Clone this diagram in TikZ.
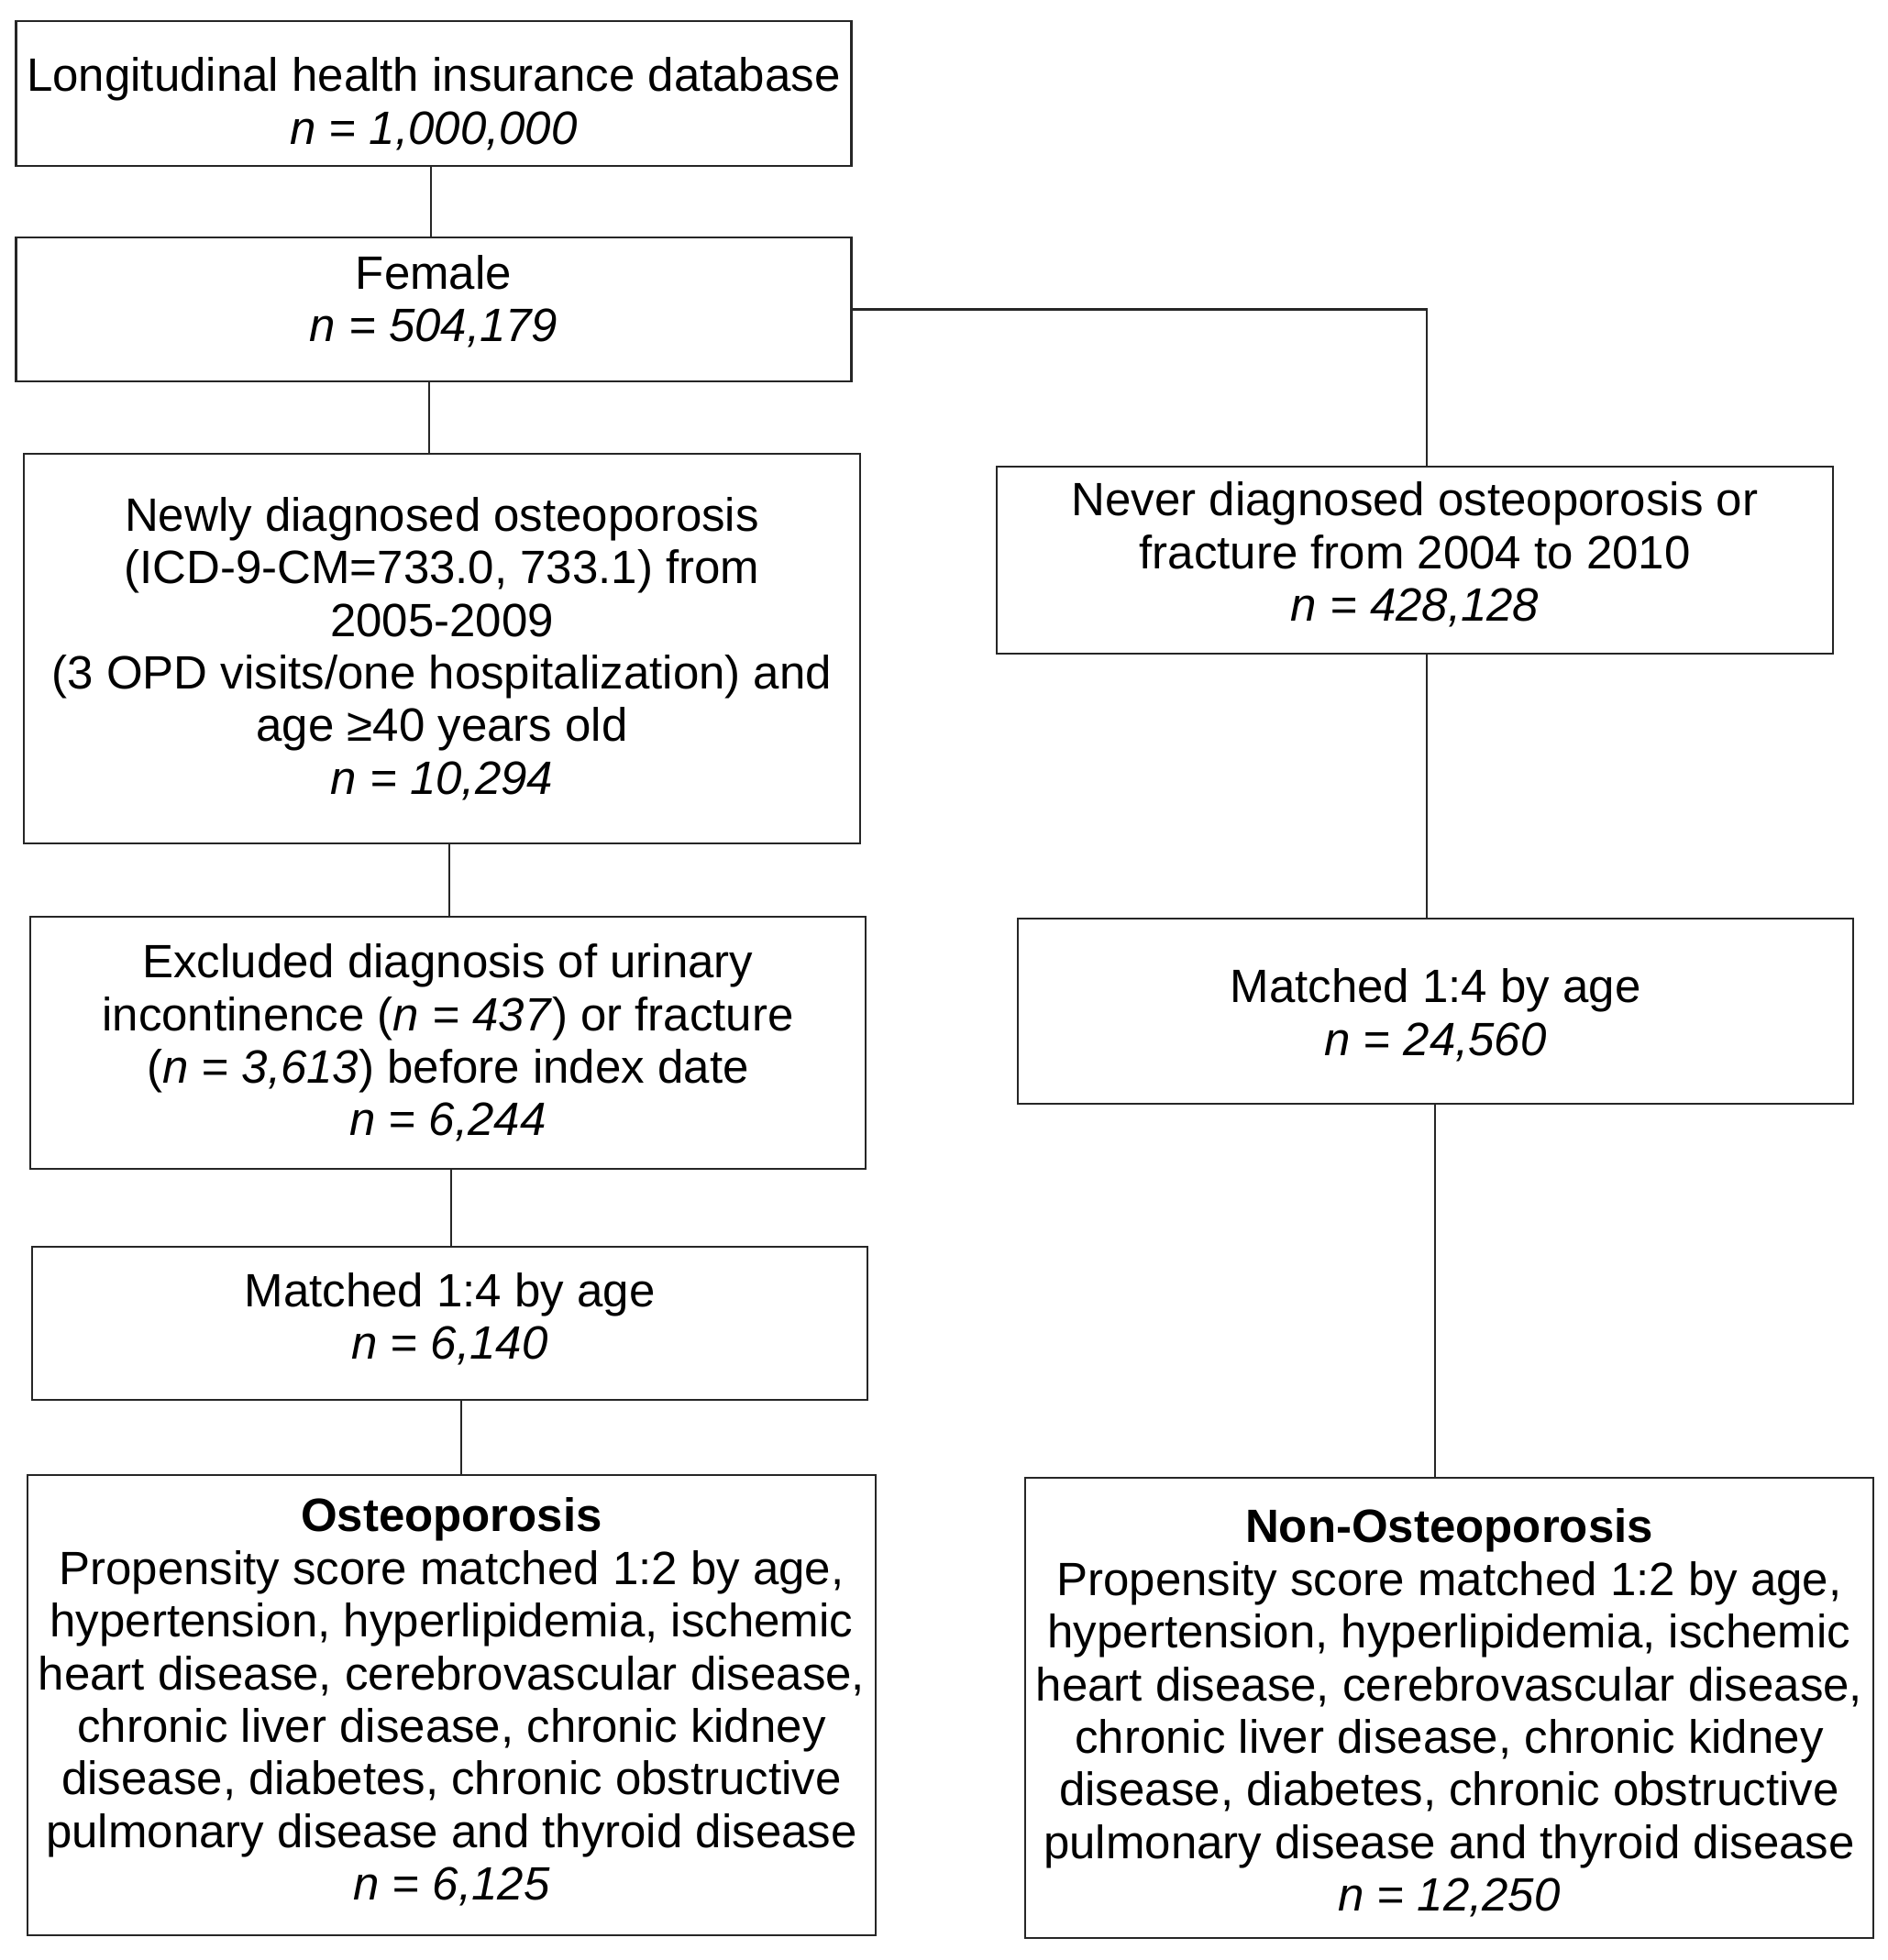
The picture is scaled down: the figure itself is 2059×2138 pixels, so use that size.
\documentclass[tikz,border=0pt]{standalone}
\usepackage{fontspec}
\setmainfont{Liberation Sans}
\newcommand\pushdown[1]{\rule{0pt}{#1}}
\newcommand\pushup[1]{\rule[-#1]{0pt}{0pt}}
\begin{document}
\begin{tikzpicture}[x=0.5pt,y=-0.5pt,
  fbox/.style={draw=black!85, line width=1.2pt, align=center, inner sep=0pt,
    font=\fontsize{25.5}{28.7}\selectfont},
  conn/.style={draw=black!85, line width=1.2pt}]
\useasboundingbox[fill=white] (0,0) rectangle (2059,2138);
\node[fbox, minimum width=455.5pt, minimum height=79pt] (b1) at (473,102)
  {\pushdown{29.6pt}Longitudinal health insurance database\\\textit{n = 1,000,000}};
\node[fbox, minimum width=455.5pt, minimum height=78.5pt] (b2) at (473,337.5)
  {Female\\\textit{n = 504,179}\pushup{11.7pt}};
\node[fbox, minimum width=456pt, minimum height=212.5pt] (b3) at (482,707.5)
  {Newly diagnosed osteoporosis\\(ICD-9-CM=733.0, 733.1) from\\2005-2009\\(3 OPD visits/one hospitalization) and\\age ≥40 years old\\\textit{n = 10,294}};
\node[fbox, minimum width=455.5pt, minimum height=137.5pt] (b4) at (488.5,1137.5)
  {Excluded diagnosis of urinary\\incontinence (\textit{n = 437}) or fracture\\(\textit{n = 3,613}) before index date\\\textit{n = 6,244}};
\node[fbox, minimum width=455.5pt, minimum height=83.5pt] (b5) at (490.5,1443.5)
  {Matched 1:4 by age\\\textit{n = 6,140}\pushup{7.7pt}};
\node[fbox, minimum width=462.5pt, minimum height=251pt] (b6) at (492.5,1860)
  {\textbf{Osteoporosis}\\Propensity score matched 1:2 by age,\\hypertension, hyperlipidemia, ischemic\\heart disease, cerebrovascular disease,\\chronic liver disease, chronic kidney\\disease, diabetes, chronic obstructive\\pulmonary disease and thyroid disease\\\textit{n = 6,125}\pushup{6.7pt}};
\node[fbox, minimum width=456pt, minimum height=102pt] (b7) at (1543,611)
  {Never diagnosed osteoporosis or\\fracture from 2004 to 2010\\\textit{n = 428,128}\pushup{9.2pt}};
\node[fbox, minimum width=455.5pt, minimum height=101pt] (b8) at (1565.5,1103)
  {\pushdown{22.6pt}Matched 1:4 by age\\\textit{n = 24,560}};
\node[fbox, minimum width=462.5pt, minimum height=251pt] (b9) at (1580.5,1863)
  {\pushdown{24pt}\textbf{Non-Osteoporosis}\\Propensity score matched 1:2 by age,\\hypertension, hyperlipidemia, ischemic\\heart disease, cerebrovascular disease,\\chronic liver disease, chronic kidney\\disease, diabetes, chronic obstructive\\pulmonary disease and thyroid disease\\\textit{n = 12,250}};
\coordinate (c12) at (470,0);
\coordinate (c23) at (468,0);
\coordinate (c34) at (490,0);
\coordinate (c45) at (492,0);
\coordinate (c56) at (503,0);
\coordinate (cr) at (1556,0);
\coordinate (c89) at (1565,0);
\draw[conn] (b1.south -| c12) -- (b2.north -| c12);
\draw[conn] (b2.south -| c23) -- (b3.north -| c23);
\draw[conn] (b3.south -| c34) -- (b4.north -| c34);
\draw[conn] (b4.south -| c45) -- (b5.north -| c45);
\draw[conn] (b5.south -| c56) -- (b6.north -| c56);
\draw[conn] (b2.east) -| (b7.north -| cr);
\draw[conn] (b7.south -| cr) -- (b8.north -| cr);
\draw[conn] (b8.south -| c89) -- (b9.north -| c89);
\end{tikzpicture}
\end{document}
